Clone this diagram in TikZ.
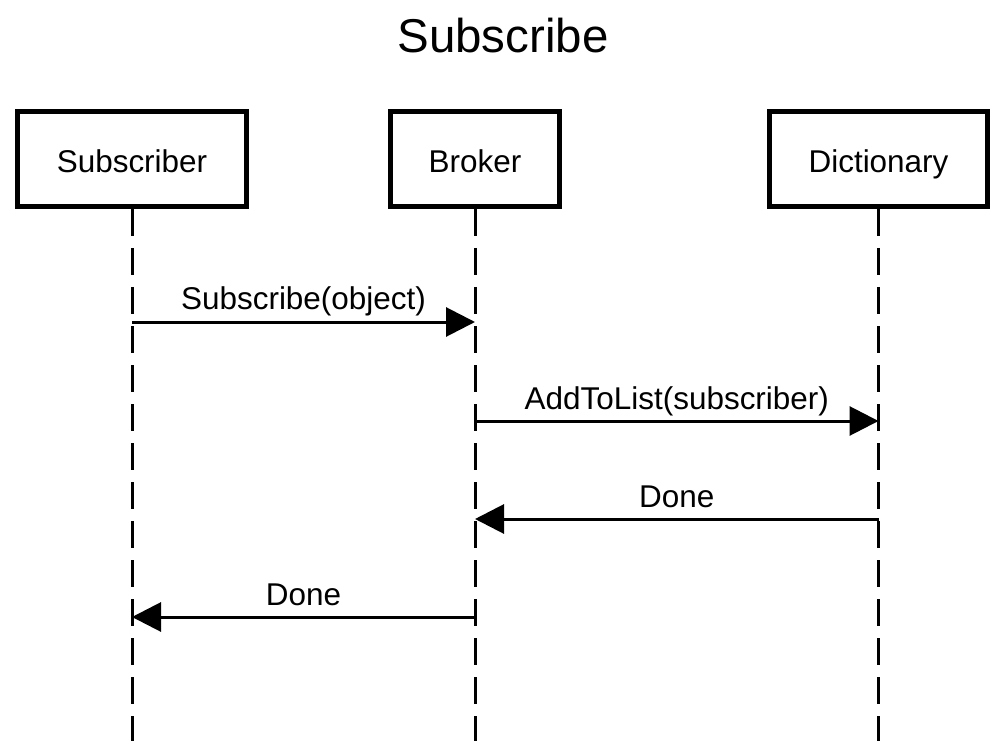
\documentclass[tikz,border=0pt]{standalone}
\usepackage{fontspec}
\setmainfont{Liberation Sans}
\usetikzlibrary{arrows.meta}
\begin{document}
\begin{tikzpicture}[x=0.75pt,y=-0.75pt,
  actor/.style={draw=black, line width=3.75pt, minimum height=71.25pt, inner sep=0pt,
    text height=19.9pt, text depth=0pt,
    font=\fontsize{23.6}{28}\selectfont},
  lifeline/.style={draw=black, line width=2.25pt, dash pattern=on 20.25pt off 9pt},
  msg/.style={draw=black, line width=2.25pt, -{Triangle[length=21.75pt,width=21.75pt]}},
  lbl/.style={font=\fontsize{23.6}{28}\selectfont, anchor=base, inner sep=0pt, yshift=9pt},
  titlestyle/.style={font=\fontsize{35.6}{42}\selectfont, anchor=base, inner sep=0pt}]
\useasboundingbox (0,0) rectangle (1005,741);
\node[titlestyle] (title) at (503,53) {Subscribe};
\coordinate (subEnd) at (132,741);
\coordinate (brkEnd) at (475,741);
\coordinate (dicEnd) at (878.5,741);
\node[actor, minimum width=171.75pt] (sub) at (132,159) {Subscriber};
\node[actor, minimum width=126.75pt] (brk) at (475,159) {Broker};
\node[actor, minimum width=163.5pt] (dic) at (878.5,159) {Dictionary};
\draw[lifeline] (sub.south) -- (subEnd);
\draw[lifeline] (brk.south) -- (brkEnd);
\draw[lifeline] (dic.south) -- (dicEnd);
\coordinate (s1) at (132,322);
\coordinate (b1) at (475,322);
\coordinate (b2) at (475,421);
\coordinate (d2) at (878.5,421);
\coordinate (d3) at (878.5,519);
\coordinate (b3) at (475,519);
\coordinate (b4) at (475,617);
\coordinate (s4) at (132,617);
\draw[msg] (s1) -- node[lbl] {Subscribe(object)} (b1);
\draw[msg] (b2) -- node[lbl] {AddToList(subscriber)} (d2);
\draw[msg] (d3) -- node[lbl] {Done} (b3);
\draw[msg] (b4) -- node[lbl] {Done} (s4);
\end{tikzpicture}
\end{document}
